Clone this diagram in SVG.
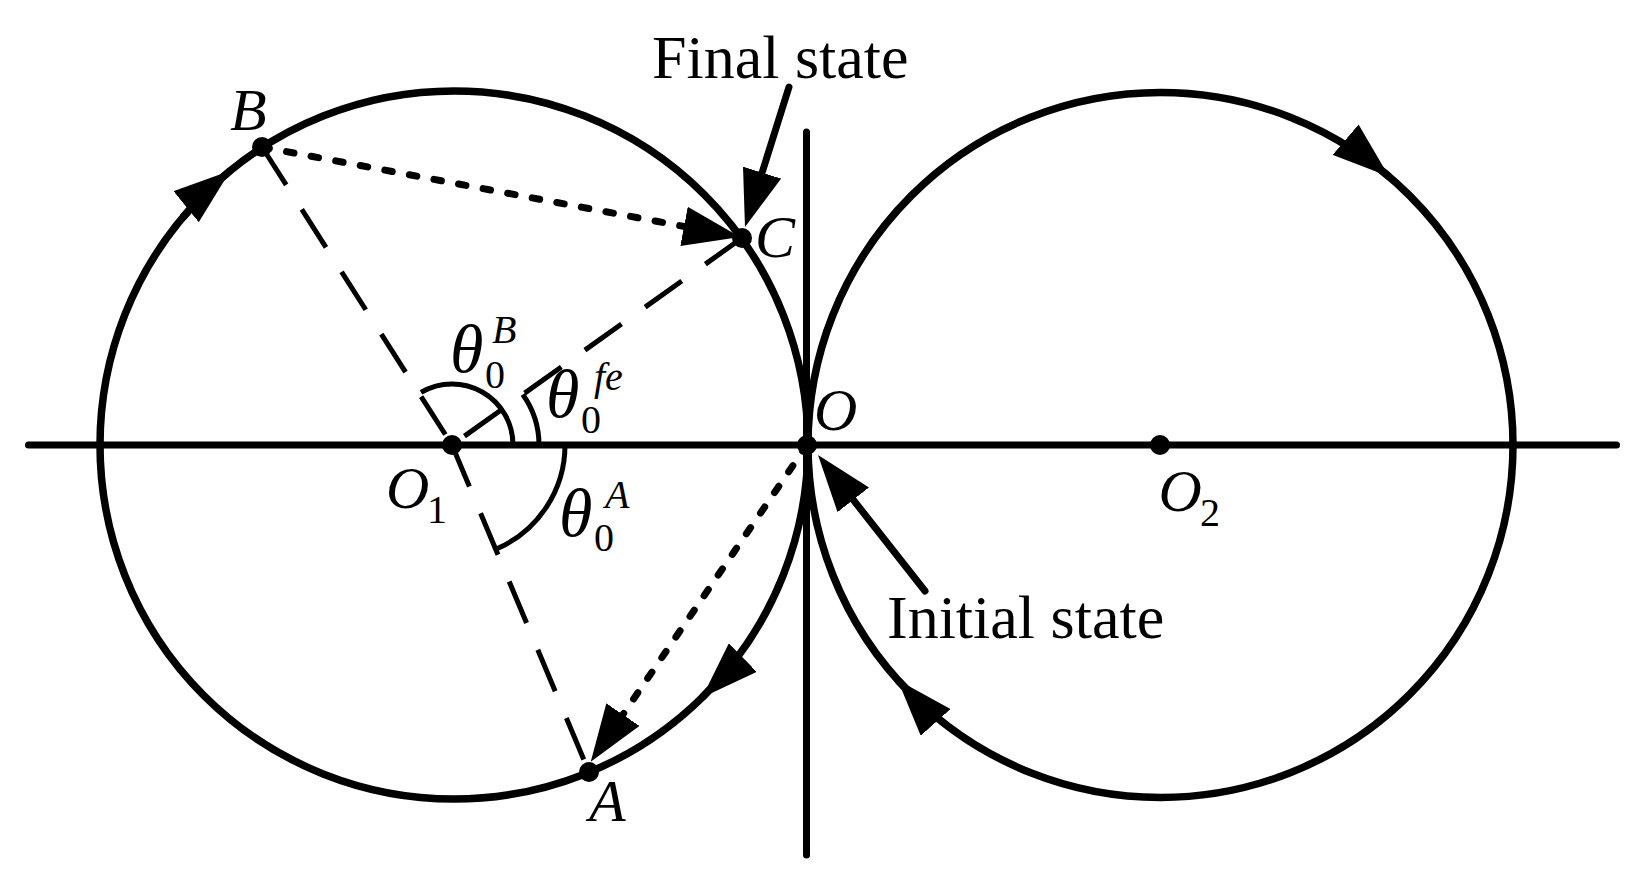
<svg xmlns="http://www.w3.org/2000/svg" width="1647" height="887" viewBox="0 0 1647 887">
<defs>
<style>
.ln{stroke:#000;stroke-width:7;fill:none;stroke-linecap:round}
.circ{stroke:#000;stroke-width:7.5;fill:none}
.dash{stroke:#000;stroke-width:5;fill:none;stroke-dasharray:45 29}
.dot{stroke:#000;stroke-width:7;fill:none;stroke-dasharray:7.5 17.5;stroke-linecap:round}
.arc{stroke:#000;stroke-width:5;fill:none}
.pt{fill:#000}
.lbl{font-family:"Liberation Serif","Times New Roman",serif;font-style:italic;font-size:60px;fill:#000}
.th{font-family:"Liberation Serif","Times New Roman",serif;font-style:italic;font-size:68px;fill:#000}
.sc{font-family:"Liberation Serif","Times New Roman",serif;font-size:40px;fill:#000}
.sci{font-family:"Liberation Serif","Times New Roman",serif;font-style:italic;font-size:40px;fill:#000}
.txt{font-family:"Liberation Serif","Times New Roman",serif;font-size:62px;fill:#000}
</style>
<marker id="tip" markerUnits="userSpaceOnUse" viewBox="0 0 57 40" markerWidth="57" markerHeight="40" refX="57" refY="20" orient="auto">
<path d="M0,0 L57,20 L0,40 Z" fill="#000"/>
</marker>
<marker id="tip15" markerUnits="userSpaceOnUse" viewBox="0 0 57 40" markerWidth="57" markerHeight="40" refX="42" refY="20" orient="auto">
<path d="M0,0 L57,20 L0,40 Z" fill="#000"/>
</marker>
</defs>
<rect x="0" y="0" width="1647" height="887" fill="#fff"/>

<g id="circle-left">
<circle class="circ" cx="454" cy="445" r="354"/>
<path class="circ" d="M182.8,217.5 A354,354 0 0 1 230.3,170.7" marker-end="url(#tip)"/>
<path class="circ" d="M733,663 A354,354 0 0 1 702.1,697.5" marker-end="url(#tip)"/>
</g>
<g id="circle-right">
<circle class="circ" cx="1160.5" cy="445" r="352.5"/>
<path class="circ" d="M1352.5,149.4 A352.5,352.5 0 0 1 1389,176.6" marker-end="url(#tip)"/>
<path class="circ" d="M929.2,711 A352.5,352.5 0 0 1 897.7,679.9" marker-end="url(#tip)"/>
</g>

<g id="axes">
<line class="ln" x1="28.5" y1="445" x2="1616.5" y2="445"/>
<line class="ln" x1="806.5" y1="132" x2="806.5" y2="855"/>
</g>

<g id="angle-markers">
<path class="arc" d="M513,445 A61,61 0 0 0 421,392.4"/>
<path class="arc" d="M539,445 A87,87 0 0 0 522.8,394.5"/>
<path class="arc" d="M565,445 A113,113 0 0 1 496.2,549"/>
<text class="th" x="450" y="372">θ</text><text class="sc" x="485" y="388">0</text><text class="sci" x="492" y="343">B</text>
<text class="th" x="546" y="417">θ</text><text class="sc" x="581" y="433">0</text><text class="sci" x="594" y="390">fe</text>
<text class="th" x="559" y="536">θ</text><text class="sc" x="594" y="551">0</text><text class="sci" x="605" y="508">A</text>
</g>

<g id="connectors">
<line class="dash" x1="262" y1="147" x2="452" y2="445"/>
<line class="dash" x1="742" y1="238" x2="452" y2="445"/>
<line class="dash" x1="452" y1="445" x2="589" y2="772"/>
<line class="dot" x1="262" y1="147" x2="725.3" y2="234.2" marker-end="url(#tip15)"/>
<line class="dot" x1="807" y1="445" x2="599.2" y2="749.3" marker-end="url(#tip15)"/>
<line class="ln" x1="789" y1="87" x2="749.5" y2="212.7" marker-end="url(#tip15)"/>
<line class="ln" x1="925" y1="591" x2="827.3" y2="466.8" marker-end="url(#tip15)"/>
</g>

<g id="node-O1"><circle class="pt" cx="452" cy="445" r="10"/><text class="lbl" x="386" y="508">O</text><text class="sc" x="427" y="523">1</text></g>
<g id="node-O"><circle class="pt" cx="807" cy="445" r="10"/><text class="lbl" x="814" y="430">O</text></g>
<g id="node-O2"><circle class="pt" cx="1160" cy="445" r="10"/><text class="lbl" x="1158.5" y="511">O</text><text class="sc" x="1200" y="526">2</text></g>
<g id="node-A"><circle class="pt" cx="589" cy="772" r="10"/><text class="lbl" x="589" y="821">A</text></g>
<g id="node-B"><circle class="pt" cx="262" cy="147" r="10"/><text class="lbl" x="230" y="130">B</text></g>
<g id="node-C"><circle class="pt" cx="742" cy="238" r="10"/><text class="lbl" x="755" y="257">C</text></g>
<g id="label-final"><text class="txt" x="652" y="78">Final state</text></g>
<g id="label-initial"><text class="txt" x="887" y="638">Initial state</text></g>
</svg>
